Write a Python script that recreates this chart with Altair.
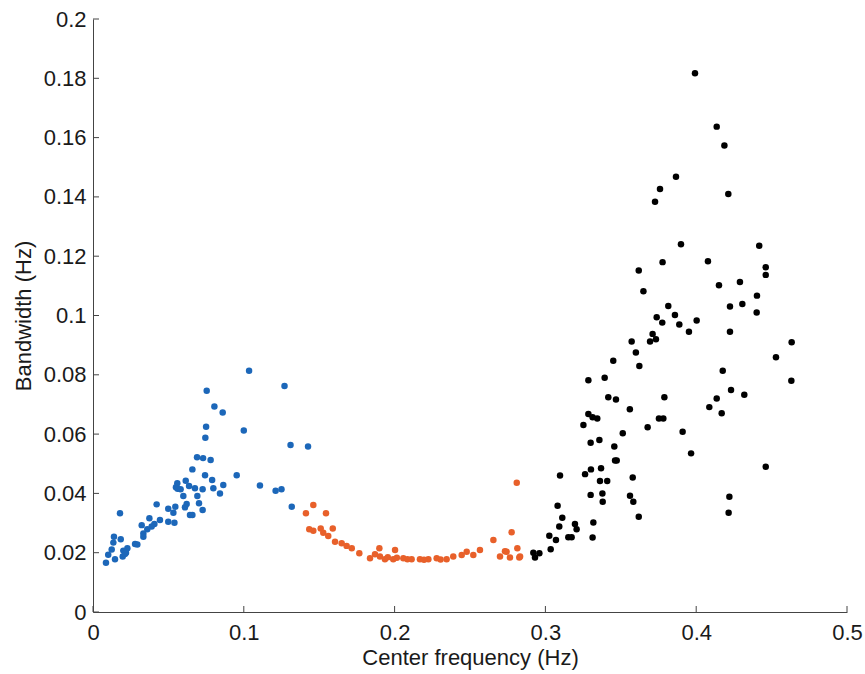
import altair as alt
import pandas as pd

# ---- data ----
blue_x = [0.1035, 0.127, 0.0754, 0.0805, 0.086, 0.075, 0.100, 0.0745, 0.131, 0.1426,
          0.069, 0.073, 0.078, 0.0659, 0.0953, 0.0743, 0.0615, 0.079, 0.0559, 0.0637,
          0.055, 0.0676, 0.0727, 0.1107, 0.0864, 0.0798, 0.0561, 0.0581, 0.0842, 0.1211,
          0.125, 0.0599, 0.0692, 0.0179, 0.0422, 0.1318, 0.0621, 0.0703, 0.061, 0.0546,
          0.0499, 0.0533, 0.0727, 0.0643, 0.0659, 0.0444, 0.0499, 0.054, 0.0374, 0.0407,
          0.0323, 0.0389, 0.036, 0.0334, 0.0334, 0.0139, 0.0184, 0.0135, 0.0279, 0.0294,
          0.0228, 0.0201, 0.0124, 0.0219, 0.0101, 0.0197, 0.0146, 0.0086, 0.0212]
blue_y = [0.0814, 0.0762, 0.0746, 0.0693, 0.0673, 0.0625, 0.0612, 0.0588, 0.0563, 0.0558,
          0.0522, 0.0519, 0.0513, 0.0481, 0.0461, 0.0461, 0.0443, 0.0445, 0.0434, 0.0425,
          0.0421, 0.0417, 0.0414, 0.0427, 0.0428, 0.0417, 0.0416, 0.0414, 0.0400, 0.0409,
          0.0414, 0.0391, 0.0391, 0.0333, 0.0363, 0.0355, 0.0364, 0.0367, 0.0353, 0.0355,
          0.0348, 0.0335, 0.0344, 0.0327, 0.0327, 0.031, 0.0304, 0.0301, 0.0316, 0.0297,
          0.0293, 0.0288, 0.0279, 0.0265, 0.0254, 0.0254, 0.0245, 0.0234, 0.0229, 0.0228,
          0.0215, 0.0207, 0.0211, 0.02, 0.0193, 0.0187, 0.0178, 0.0166, 0.0196]

orange_x = [0.1461, 0.1412, 0.1545, 0.281, 0.1434, 0.1461, 0.151, 0.1527, 0.159, 0.156,
            0.1605, 0.1649, 0.1682, 0.1716, 0.1766, 0.1837, 0.187, 0.1899, 0.1903, 0.1936,
            0.2003, 0.1991, 0.2058, 0.2113, 0.2168, 0.2224, 0.2279, 0.2345, 0.2389, 0.2445,
            0.2478, 0.2522, 0.2566, 0.2655, 0.2699, 0.2743, 0.2765, 0.2814, 0.2827, 0.2776,
            0.2732, 0.2832, 0.2085, 0.2195, 0.2305, 0.2015, 0.1955]
orange_y = [0.0361, 0.0333, 0.0333, 0.0436, 0.0279, 0.0274, 0.0282, 0.0267, 0.0282, 0.0256,
            0.0237, 0.0232, 0.0223, 0.0215, 0.0198, 0.0181, 0.0195, 0.0215, 0.0187, 0.0178,
            0.0209, 0.0178, 0.0181, 0.0178, 0.0178, 0.0178, 0.0181, 0.0178, 0.0187, 0.0192,
            0.0203, 0.0192, 0.0209, 0.0243, 0.0187, 0.0203, 0.0184, 0.0215, 0.0184, 0.0269,
            0.0205, 0.0187, 0.0178, 0.0176, 0.0177, 0.0183, 0.0185]

black_x = [0.292, 0.296, 0.2931, 0.3035, 0.3026, 0.307, 0.3092, 0.3112, 0.3081, 0.3097,
           0.3152, 0.3174, 0.3196, 0.3207, 0.3313, 0.3318, 0.33, 0.3263, 0.3302, 0.3362,
           0.341, 0.3369, 0.3378, 0.338, 0.33, 0.3358, 0.3252, 0.3285, 0.3313, 0.3344,
           0.3285, 0.3393, 0.3417, 0.3468, 0.345, 0.3457, 0.3462, 0.3473, 0.3513, 0.356,
           0.3579, 0.3561, 0.3583, 0.3619, 0.3572, 0.36, 0.3623, 0.3678, 0.3694, 0.3711,
           0.3733, 0.3738, 0.3775, 0.3815, 0.3859, 0.3888, 0.3952, 0.4003, 0.3753, 0.3782,
           0.3789, 0.391, 0.3966, 0.4087, 0.4136, 0.4169, 0.4176, 0.4231, 0.4319, 0.4224,
           0.4224, 0.4306, 0.4401, 0.422, 0.4215, 0.4461, 0.4529, 0.4633, 0.4631,
           0.3992, 0.4136, 0.4187, 0.3866, 0.376, 0.3727, 0.4213, 0.3899, 0.4418, 0.3777,
           0.4078, 0.3619, 0.4461, 0.4461, 0.365, 0.4151, 0.429, 0.4403]
black_y = [0.02, 0.0198, 0.0184, 0.0212, 0.0257, 0.0243, 0.0288, 0.0318, 0.0358, 0.046,
           0.0252, 0.0252, 0.0297, 0.0279, 0.0251, 0.0302, 0.0395, 0.0465, 0.0481, 0.0442,
           0.0442, 0.0485, 0.04, 0.0372, 0.0571, 0.058, 0.0631, 0.0668, 0.0657, 0.0653,
           0.0782, 0.079, 0.0724, 0.0717, 0.0847, 0.0558, 0.0511, 0.0511, 0.0603, 0.0684,
           0.0454, 0.0392, 0.0372, 0.0321, 0.0912, 0.0875, 0.083, 0.0623, 0.0912, 0.0938,
           0.092, 0.0994, 0.0976, 0.1032, 0.1002, 0.097, 0.0945, 0.0983, 0.0653, 0.0653,
           0.0724, 0.0608, 0.0535, 0.0691, 0.072, 0.067, 0.0814, 0.0749, 0.0733, 0.103,
           0.0945, 0.1039, 0.101, 0.0389, 0.0335, 0.049, 0.0859, 0.091, 0.078,
           0.1817, 0.1637, 0.1573, 0.1468, 0.1427, 0.1384, 0.141, 0.124, 0.1235, 0.118,
           0.1183, 0.1152, 0.1163, 0.1137, 0.1082, 0.1102, 0.1113, 0.1067]

groups = ["low", "mid", "high"]
colors = ["#1c67b9", "#e8602a", "#000000"]

x_ticks = [0, 0.1, 0.2, 0.3, 0.4, 0.5]
y_ticks = [0, 0.02, 0.04, 0.06, 0.08, 0.1, 0.12, 0.14, 0.16, 0.18, 0.2]

df = pd.concat([
    pd.DataFrame({"f": blue_x, "bw": blue_y, "g": "low"}),
    pd.DataFrame({"f": orange_x, "bw": orange_y, "g": "mid"}),
    pd.DataFrame({"f": black_x, "bw": black_y, "g": "high"}),
], ignore_index=True)

W, H = 754, 593
FONT = "Liberation Sans"

xscale = alt.Scale(domain=[0, 0.5], nice=False, zero=False)
yscale = alt.Scale(domain=[0, 0.2], nice=False, zero=False)

points = alt.Chart(df).mark_circle(size=42, opacity=1).encode(
    x=alt.X("f:Q", scale=xscale, title="Center frequency (Hz)",
            axis=alt.Axis(values=x_ticks, format="~g")),
    y=alt.Y("bw:Q", scale=yscale, title="Bandwidth (Hz)",
            axis=alt.Axis(values=y_ticks, format="~g")),
    color=alt.Color("g:N", scale=alt.Scale(domain=groups, range=colors), legend=None),
)

xt = alt.Chart(pd.DataFrame({"t": x_ticks})).mark_rule(color="#444", strokeWidth=1).encode(
    x=alt.X("t:Q", scale=xscale),
    y=alt.value(H), y2=alt.value(H - 6),
)
yt = alt.Chart(pd.DataFrame({"t": y_ticks})).mark_rule(color="#444", strokeWidth=1).encode(
    y=alt.Y("t:Q", scale=yscale),
    x=alt.value(0), x2=alt.value(6),
)

chart = alt.layer(points, xt, yt).properties(
    width=W, height=H,
    autosize=alt.AutoSizeParams(type="none"),
    padding={"left": 93, "top": 19, "right": 18, "bottom": 62},
).configure_view(stroke="transparent").configure_axis(
    grid=False, ticks=False, domainColor="#444", domainWidth=1, labelFlush=False,
    labelFont=FONT, labelFontSize=22, labelColor="#1a1a1a",
    titleFont=FONT, titleFontSize=22, titleFontWeight="normal", titleColor="#1a1a1a",
).configure_axisX(labelPadding=10, titlePadding=4).configure_axisY(labelPadding=7, titlePadding=8)

chart.save("out.html", embed_options={"renderer": "svg", "actions": False})
